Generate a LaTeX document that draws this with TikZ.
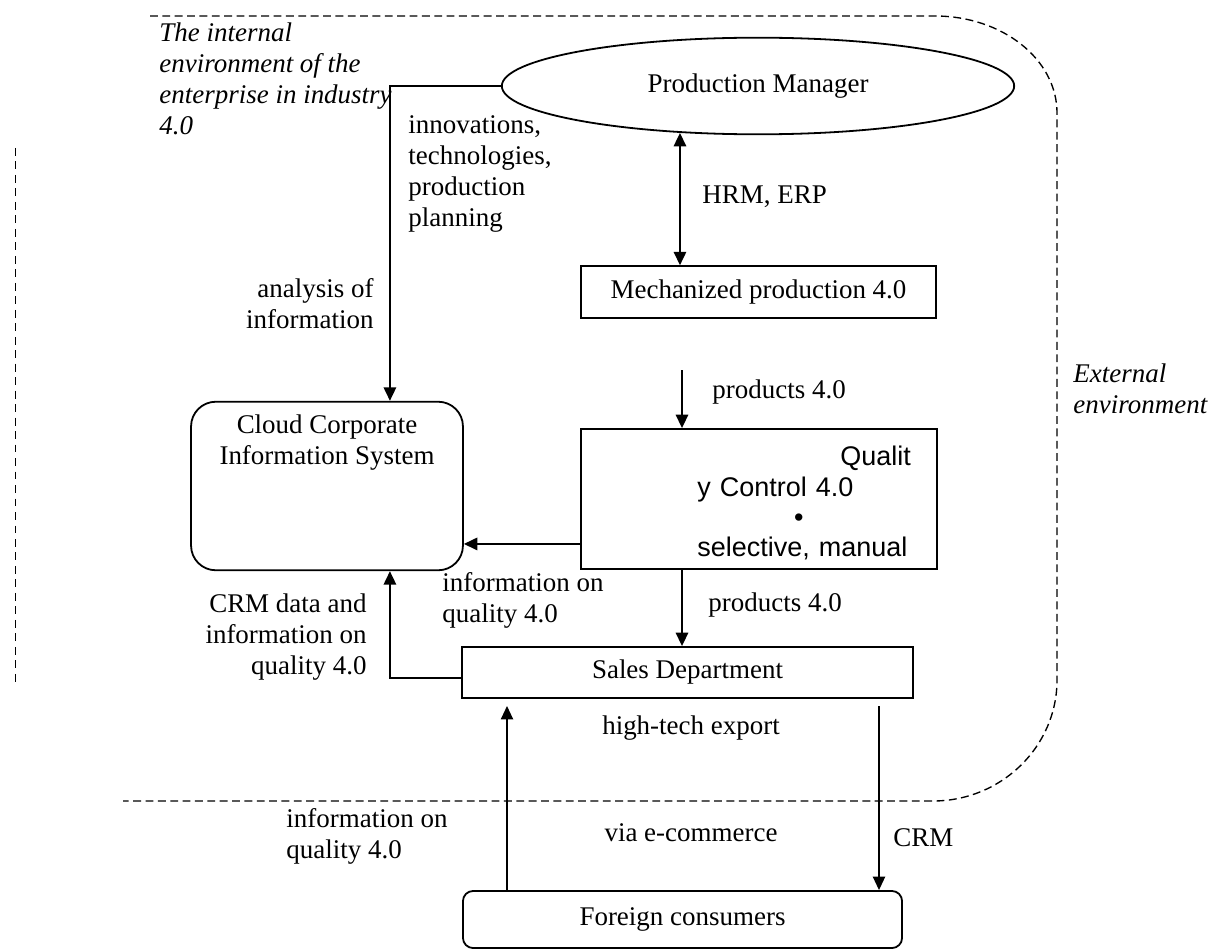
\documentclass[tikz,border=0pt]{standalone}
\usepackage{fontspec}
\setmainfont{Liberation Serif}
\newfontfamily\arialfont{Liberation Sans}
\usepackage{tikz}
\usetikzlibrary{arrows.meta, shapes.geometric}

\begin{document}
\begin{tikzpicture}[
    x=0.445pt, y=-0.445pt,
    >={Triangle[length=6pt, width=5.5pt]},
    every node/.style={font=\fontsize{12}{13.8}\selectfont, inner sep=0pt},
    box/.style={rectangle, draw, line width=0.8pt},
    roundbox/.style={rectangle, draw, line width=0.8pt, rounded corners=11pt},
    flow/.style={draw, line width=0.9pt, ->},
    twoway/.style={draw, line width=0.9pt, <->},
    thinflow/.style={draw, line width=0.6pt, ->},
    boundary/.style={draw, line width=0.6pt, dash pattern=on 3.5pt off 2pt},
    note/.style={align=left},
    envnote/.style={align=left, font=\fontsize{12}{13.8}\selectfont\itshape}
]

\useasboundingbox (0,0) rectangle (1214,951);

\node[ellipse, draw, line width=0.8pt, minimum width=228pt, minimum height=43pt] (manager) at (758,86) {Production Manager};
\node[box, minimum width=158pt, minimum height=23pt] (mech) at (758.5,292) {Mechanized production 4.0};
\node[roundbox, minimum width=121pt, minimum height=75pt,
      label={[name=cloudtext, anchor=north, align=center, yshift=-6pt]north:{Cloud Corporate\\Information System}}] (cloud) at (327,486) {};
\node[box, minimum width=158.4pt, minimum height=62.3pt] (quality) at (759,499) {};
\node[anchor=north west, text width=95pt, align=left, font=\fontsize{12}{13.4}\selectfont\arialfont] (qctext) at (697,446)
    {\hfill Qualit\\y Control 4.0\\\hspace*{43pt}\textbullet\\selective, manual};
\node[box, minimum width=200.7pt, minimum height=22.7pt] (sales) at (687.5,672.5) {Sales Department};
\node[roundbox, rounded corners=4.5pt, minimum width=195.4pt, minimum height=25.4pt] (foreign) at (682.5,919.5) {Foreign consumers};

\node[envnote, anchor=north west] (internal) at (159,22) {The internal\\environment of the\\enterprise in industry\\4.0};
\node[envnote, anchor=north west] (external) at (1073,363) {External\\environment};
\node[note, anchor=north west] (innov) at (408,115) {innovations,\\technologies,\\production\\planning};
\node[anchor=west] (hrm) at (702,197) {HRM, ERP};
\node[align=right, anchor=north east] (analysis) at (374,278) {analysis of\\information};
\node[anchor=west] (prodin) at (712,392) {products 4.0};
\node[anchor=west] (prodout) at (708,605) {products 4.0};
\node[note, anchor=north west] (infoq) at (442,572) {information on\\quality 4.0};
\node[align=right, anchor=north east] (crmdata) at (367,593) {CRM data and\\information on\\quality 4.0};
\node (hightech) at (691,728) {high-tech export};
\node[note, anchor=north west] (infoexp) at (286,808) {information on\\quality 4.0};
\node (ecommerce) at (691,833) {via e-commerce};
\node[anchor=west] (crm) at (893,838) {CRM};

\coordinate (prodtop) at (682,370);
\coordinate (upend) at (507,706);
\coordinate (crmtop) at (879,706);

\draw[flow] (manager.west) -| ([xshift=28pt]cloud.north);
\draw[twoway] (manager.211) -- (manager.211 |- mech.north);
\draw[flow] (prodtop) -- (prodtop |- quality.north);
\draw[flow] ([yshift=-20pt]quality.west) -- ([yshift=-20pt]quality.west -| cloud.east);
\draw[flow] (prodtop |- quality.south) -- (prodtop |- sales.north);
\draw[flow] ([yshift=-2.4pt]sales.west) -| ([xshift=28pt]cloud.south);
\draw[thinflow] (upend |- foreign.north) -- (upend);
\draw[thinflow] (crmtop) -- (crmtop |- foreign.north);

\draw[boundary] (150,16) -- (935,16) .. controls (1002,16) and (1057,59) .. (1057,113)
    -- (1057,680) .. controls (1057,747) and (1001,801) .. (933,801) -- (123,801);
\draw[boundary, line width=0.4pt, dash pattern=on 3.5pt off 2.5pt] (15,148) -- (15,685);

\end{tikzpicture}
\end{document}
